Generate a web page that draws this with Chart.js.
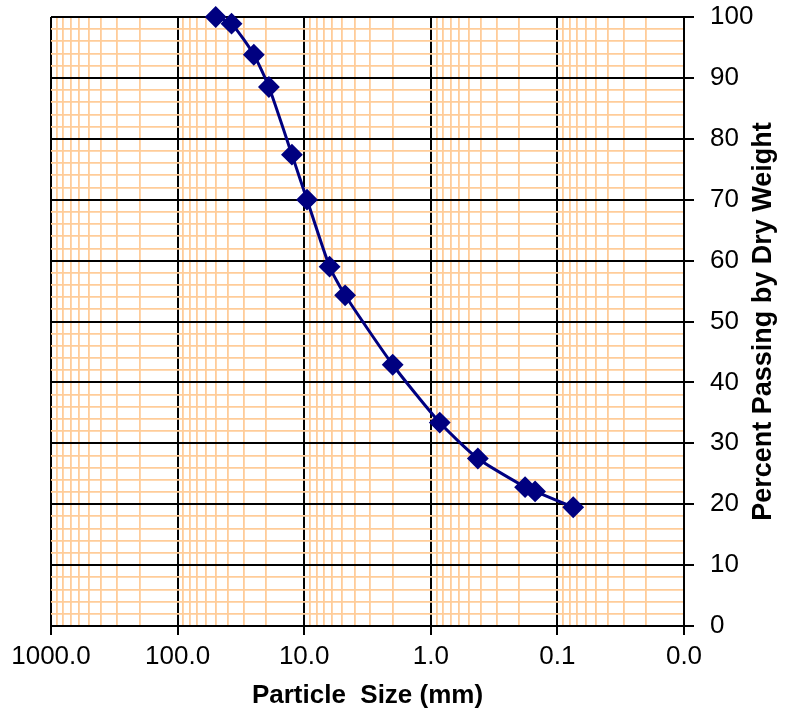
<!DOCTYPE html>
<html>
<head>
<meta charset="utf-8">
<script src="https://cdn.jsdelivr.net/npm/chart.js@4.4.1/dist/chart.umd.min.js"></script>
<style>
  html, body { margin: 0; padding: 0; background: #fff; }
</style>
</head>
<body>
<canvas id="gradation" width="793" height="715"></canvas>
<script>
// sieve sizes (mm) and percent passing
const sieveSizes = [50, 37.5, 25, 19, 12.5, 9.5, 6.3, 4.75, 2.0, 0.85, 0.425, 0.18, 0.15, 0.075];
const percentPassing = [100, 98.9, 93.8, 88.5, 77.4, 70.0, 59.0, 54.3, 42.9, 33.4, 27.5, 22.8, 22.1, 19.5];
const decadeTicks = [1000, 100, 10, 1, 0.1, 0.01];
const yTitle = 'Percent Passing by Dry Weight';
const xTitle = 'Particle  Size (mm)';

const FONT = '"Liberation Sans", Arial, sans-serif';
const BLACK = '#000000';
const ORANGE = '#FFCC99';

function isDecade(v) {
    return decadeTicks.some(d => Math.abs(v / d - 1) < 1e-6);
}

// right-hand axis title reads bottom to top, so it is drawn here
const yTitlePlugin = {
    id: 'yTitle',
    afterDraw(chart) {
        const {ctx, chartArea} = chart;
        ctx.save();
        ctx.translate(chart.width - 29, (chartArea.top + chartArea.bottom) / 2);
        ctx.rotate(-Math.PI / 2);
        ctx.font = 'bold 27px ' + FONT;
        ctx.fillStyle = BLACK;
        ctx.textAlign = 'center';
        ctx.textBaseline = 'middle';
        ctx.fillText(yTitle, 0, 0);
        ctx.restore();
    }
};

const points = sieveSizes.map((s, i) => ({x: s, y: percentPassing[i]}));

new Chart(document.getElementById('gradation'), {
    type: 'line',
    data: {
        datasets: [{
            data: points,
            borderColor: '#000080',
            backgroundColor: '#000080',
            borderWidth: 3,
            tension: 0.2,
            pointStyle: 'rectRot',
            pointRadius: 9.5,
            pointBorderWidth: 2,
            pointBorderColor: '#000080',
            pointBackgroundColor: '#000080',
            clip: false,
        }]
    },
    options: {
        responsive: false,
        animation: false,
        layout: {padding: {left: 51, top: 17, right: 0, bottom: 0}},
        plugins: {
            legend: {display: false},
            tooltip: {enabled: false},
        },
        scales: {
            x: {
                type: 'logarithmic',
                reverse: true,
                min: 0.01,
                max: 1000,
                afterBuildTicks(scale) {
                    const ticks = [];
                    for (const d of decadeTicks) {
                        if (d === 1000) { ticks.push({value: d}); continue; }
                        for (let k = 1; k <= 9; k++) ticks.push({value: d * k});
                    }
                    scale.ticks = ticks;
                },
                afterFit(scale) {
                    scale.height = 89;
                    scale.paddingLeft = 0;
                    scale.paddingRight = 0;
                },
                grid: {
                    color: ctx => isDecade(ctx.tick.value) ? BLACK : ORANGE,
                    lineWidth: ctx => isDecade(ctx.tick.value) ? 2 : 1.8,
                    tickColor: ctx => isDecade(ctx.tick.value) ? BLACK : 'rgba(0,0,0,0)',
                    tickLength: 9,
                },
                border: {color: BLACK, width: 2},
                ticks: {
                    autoSkip: false,
                    maxRotation: 0,
                    padding: 6,
                    color: BLACK,
                    font: {family: FONT, size: 26},
                    callback: v => isDecade(v) ? v.toFixed(1) : '',
                },
                title: {
                    display: true,
                    text: xTitle,
                    color: BLACK,
                    font: {family: FONT, size: 26, weight: 'bold'},
                    padding: {top: 0, bottom: 4},
                },
            },
            y: {
                position: 'right',
                min: 0,
                max: 100,
                afterFit(scale) {
                    scale.width = 109;
                    scale.paddingTop = 0;
                    scale.paddingBottom = 0;
                },
                grid: {
                    color: ctx => ctx.tick.value % 10 === 0 ? BLACK : ORANGE,
                    lineWidth: ctx => ctx.tick.value % 10 === 0 ? 2 : 1.8,
                    tickColor: ctx => ctx.tick.value % 10 === 0 ? BLACK : 'rgba(0,0,0,0)',
                    tickLength: 10,
                },
                border: {color: BLACK, width: 2},
                ticks: {
                    stepSize: 2,
                    autoSkip: false,
                    padding: 16,
                    color: BLACK,
                    font: {family: FONT, size: 26},
                    callback: v => v % 10 === 0 ? v : '',
                },
            },
        },
    },
    plugins: [yTitlePlugin],
});
</script>
</body>
</html>
